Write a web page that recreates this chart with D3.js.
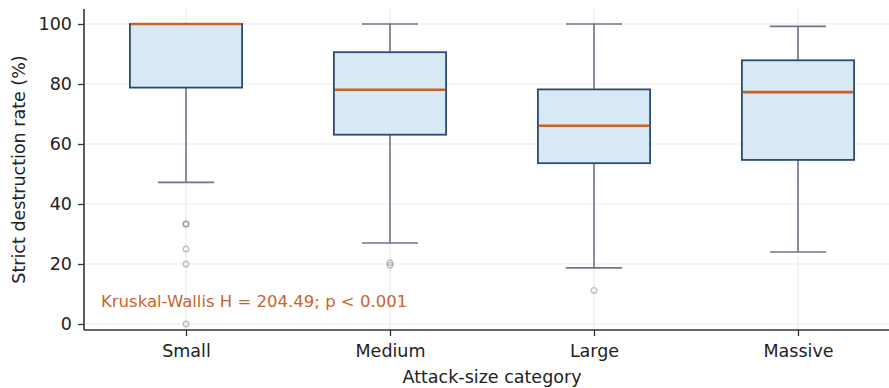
<!DOCTYPE html>
<meta charset="utf-8">
<head>
  <title>Strict destruction rate by attack size</title>
</head>
<style>
  body { margin: 0; background: #fff; }
  svg { display: block; }
  .tick text { font-family: "DejaVu Sans", sans-serif; font-size: 17.5px; fill: #222; }
  .axis-label { font-family: "DejaVu Sans", sans-serif; font-size: 17.5px; fill: #222; }
  .note { font-family: "DejaVu Sans", sans-serif; font-size: 16.5px; fill: #c8652c; }
</style>
<body>
<svg id="chart"></svg>
<script src="https://cdn.jsdelivr.net/npm/d3@7"></script>
<script>
// data
var categories = ["Small", "Medium", "Large", "Massive"];
var q1 = [78.8, 63.1, 53.6, 54.7];
var medians = [100, 78.1, 66.1, 77.3];
var q3 = [100, 90.6, 78.2, 87.9];
var whiskerLow = [47.2, 27.0, 18.7, 24.0];
var whiskerHigh = [100, 100, 100, 99.2];
var outliers = [
  [33.3, 33.3, 25.0, 20.0, 0],
  [20.4, 19.6],
  [11.2],
  []
];
var yTicks = [0, 20, 40, 60, 80, 100];
var note = "Kruskal-Wallis H = 204.49; p < 0.001";

var width = 889, height = 388;
var margin = {left: 84, top: 9, bottom: 58};
var plotRight = 900; // axes run past the picture edge

var svg = d3.select("#chart").attr("width", width).attr("height", height);

var xc = d3.scalePoint().domain(categories).range([margin.left, plotRight]).padding(0.5);
var step = xc.step();
var boxW = step * 0.55;
var capW = boxW * 0.5;

var y = d3.scaleLinear().domain([-2, 105]).range([height - margin.bottom, margin.top]);

// grid
svg.append("g").selectAll("line").data(yTicks).enter().append("line")
  .attr("x1", margin.left).attr("x2", plotRight)
  .attr("y1", function(d) { return y(d); }).attr("y2", function(d) { return y(d); })
  .style("stroke", "#ebebeb").style("stroke-width", 1.2);
svg.append("g").selectAll("line").data(categories).enter().append("line")
  .attr("x1", function(d) { return xc(d); }).attr("x2", function(d) { return xc(d); })
  .attr("y1", y(105)).attr("y2", y(-2))
  .style("stroke", "#ebebeb").style("stroke-width", 1.2);

var data = categories.map(function(c, i) {
  return {cat: c, q1: q1[i], med: medians[i], q3: q3[i], lo: whiskerLow[i], hi: whiskerHigh[i], out: outliers[i]};
});

var g = svg.append("g").selectAll("g.box").data(data).enter().append("g");

var whiskerColor = "#6b7588";
function vline(a, b) {
  g.append("line")
    .attr("x1", function(d) { return xc(d.cat); }).attr("x2", function(d) { return xc(d.cat); })
    .attr("y1", function(d) { return y(d[a]); }).attr("y2", function(d) { return y(d[b]); })
    .style("stroke", whiskerColor).style("stroke-width", 1.6);
}
function cap(k) {
  g.append("line")
    .attr("x1", function(d) { return xc(d.cat) - capW / 2; }).attr("x2", function(d) { return xc(d.cat) + capW / 2; })
    .attr("y1", function(d) { return y(d[k]); }).attr("y2", function(d) { return y(d[k]); })
    .style("stroke", whiskerColor).style("stroke-width", 1.6);
}
vline("q1", "lo"); vline("q3", "hi");
cap("lo"); cap("hi");

g.append("rect")
  .attr("x", function(d) { return xc(d.cat) - boxW / 2; })
  .attr("width", boxW)
  .attr("y", function(d) { return y(d.q3); })
  .attr("height", function(d) { return y(d.q1) - y(d.q3); })
  .style("fill", "#d8e8f5").style("stroke", "#2c4a72").style("stroke-width", 1.8);

g.append("line")
  .attr("x1", function(d) { return xc(d.cat) - boxW / 2 + 1; }).attr("x2", function(d) { return xc(d.cat) + boxW / 2 - 1; })
  .attr("y1", function(d) { return y(d.med); }).attr("y2", function(d) { return y(d.med); })
  .style("stroke", "#c8622a").style("stroke-width", 2.6);

g.selectAll("circle").data(function(d) { return d.out.map(function(v) { return {cat: d.cat, v: v}; }); })
  .enter().append("circle")
  .attr("cx", function(d) { return xc(d.cat); })
  .attr("cy", function(d) { return y(d.v); })
  .attr("r", 2.8)
  .style("fill", "none").style("stroke", "#777").style("stroke-opacity", 0.45).style("stroke-width", 1.4);

// axes
var yAxis = svg.append("g").attr("transform", "translate(" + margin.left + ",0)")
  .call(d3.axisLeft(y).tickValues(yTicks).tickSize(6).tickPadding(6));
var xAxis = svg.append("g").attr("transform", "translate(0," + (height - margin.bottom) + ")")
  .call(d3.axisBottom(xc).tickSize(6).tickPadding(9));
[yAxis, xAxis].forEach(function(a) {
  a.select(".domain").style("stroke", "#333").style("stroke-width", 1.6);
  a.selectAll(".tick line").style("stroke", "#333").style("stroke-width", 1.3);
});
yAxis.select(".domain").attr("d", "M0," + y(-2) + "V" + y(105));
xAxis.select(".domain").attr("d", "M" + margin.left + ",0H" + plotRight);

svg.append("text").attr("class", "axis-label")
  .attr("transform", "translate(25," + ((y(-2) + y(105)) / 2) + ") rotate(-90)")
  .attr("text-anchor", "middle")
  .text("Strict destruction rate (%)");
svg.append("text").attr("class", "axis-label")
  .attr("x", (margin.left + plotRight) / 2 - 0).attr("y", 383)
  .attr("text-anchor", "middle")
  .text("Attack-size category");

svg.append("text").attr("class", "note")
  .attr("x", 101).attr("y", y(5.8))
  .text(note);
</script>
</body>
</html>
